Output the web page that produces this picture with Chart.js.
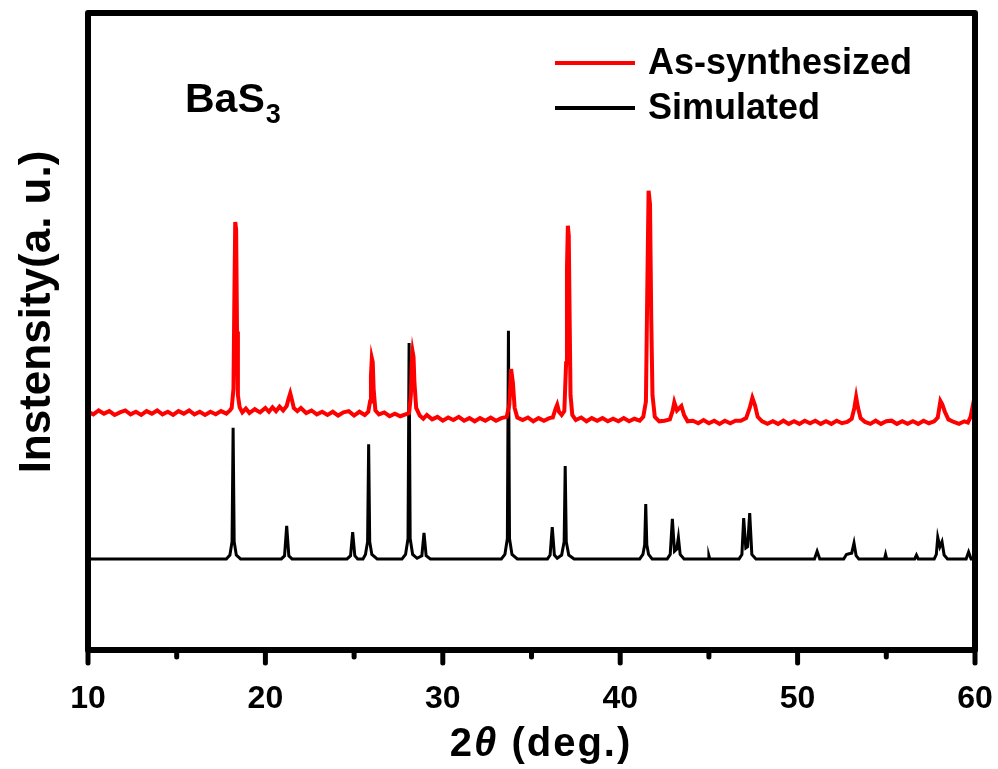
<!DOCTYPE html>
<html>
<head>
<meta charset="utf-8">
<script src="https://cdn.jsdelivr.net/npm/chart.js@4/dist/chart.umd.min.js"></script>
<style>
  html, body { margin: 0; padding: 0; background: #fff; }
  #wrap { width: 998px; height: 769px; }
</style>
</head>
<body>
<div id="wrap"><canvas id="xrd" width="998" height="769"></canvas></div>
<script>
// x axis (2theta) range and ticks
const thetaMin = 10;
const thetaMax = 60;
const majorTicks = [10, 20, 30, 40, 50, 60];
const minorTicks = [15, 25, 35, 45, 55];

const seriesLabels = ['As-synthesized', 'Simulated'];
const sampleName = 'BaS';
const sampleSub = '3';

const asSynthesized = [
  [10.0,37.4],[10.3,37.0],[10.6,37.6],[10.9,37.1],[11.2,37.5],[11.5,36.9],[11.8,37.3],[12.1,37.6],
  [12.4,37.0],[12.7,37.4],[13.0,36.9],[13.3,37.5],[13.6,37.1],[13.9,37.6],[14.2,37.0],[14.5,37.4],
  [14.8,36.9],[15.1,37.5],[15.4,37.1],[15.7,37.6],[16.0,37.0],[16.3,37.4],[16.6,36.9],[16.9,37.4],
  [17.2,37.0],[17.5,37.5],[17.8,37.1],[18.0,37.6],[18.1,38.0],[18.2,41.0],[18.25,55.0],[18.3,67.2],
  [18.35,66.0],[18.4,50.0],[18.45,40.0],[18.55,38.1],[18.7,37.3],[18.9,37.9],[19.1,37.2],[19.4,37.8],
  [19.7,37.3],[20.0,38.0],[20.2,37.4],[20.4,38.1],[20.6,37.5],[20.8,38.2],[21.0,37.6],[21.2,38.3],
  [21.3,39.4],[21.4,40.3],[21.5,39.2],[21.6,38.0],[21.8,37.5],[22.0,38.0],[22.3,37.2],[22.6,37.6],
  [22.9,37.0],[23.2,37.4],[23.5,36.9],[23.8,37.4],[24.1,36.8],[24.4,37.3],[24.7,37.5],[25.0,36.8],
  [25.3,37.4],[25.6,36.9],[25.8,37.4],[25.9,39.0],[25.95,43.0],[26.0,45.8],[26.05,45.2],[26.1,41.0],
  [26.2,37.6],[26.4,37.0],[26.7,37.3],[27.0,36.7],[27.3,37.1],[27.6,36.7],[27.9,37.0],[28.1,37.2],
  [28.2,40.0],[28.25,45.0],[28.3,46.8],[28.35,46.0],[28.4,42.0],[28.5,38.0],[28.7,36.8],[28.9,36.3],
  [29.1,36.9],[29.4,36.2],[29.7,36.6],[30.0,36.0],[30.3,36.5],[30.6,36.1],[30.9,36.6],[31.2,36.0],
  [31.5,36.4],[31.8,35.9],[32.1,36.4],[32.4,36.0],[32.7,36.5],[33.0,36.0],[33.3,36.4],[33.6,36.6],
  [33.75,38.5],[33.85,44.1],[33.95,42.0],[34.05,38.0],[34.2,36.5],[34.5,36.1],[34.8,36.5],[35.1,35.9],
  [35.4,36.4],[35.7,36.0],[36.0,36.4],[36.2,36.5],[36.35,37.8],[36.45,38.5],[36.55,37.4],[36.7,36.9],
  [36.85,37.5],[36.95,45.0],[37.0,60.0],[37.05,66.6],[37.1,65.0],[37.15,52.0],[37.2,40.0],[37.3,36.9],
  [37.5,36.1],[37.8,36.5],[38.1,35.9],[38.4,36.4],[38.7,36.0],[39.0,36.4],[39.3,35.9],[39.6,36.3],
  [39.9,35.9],[40.2,36.4],[40.5,35.9],[40.8,36.3],[41.1,36.0],[41.3,36.6],[41.45,39.0],[41.52,55.0],
  [41.6,72.1],[41.68,70.0],[41.75,52.0],[41.82,40.0],[41.95,36.6],[42.2,35.9],[42.5,36.0],[42.8,36.2],
  [42.95,37.5],[43.05,38.9],[43.2,37.6],[43.45,38.3],[43.6,36.9],[43.8,35.9],[44.1,36.0],[44.4,35.6],
  [44.7,36.1],[45.0,35.6],[45.3,36.0],[45.6,35.5],[45.9,36.0],[46.2,35.6],[46.5,36.0],[46.8,36.0],
  [47.1,36.4],[47.3,38.0],[47.45,39.6],[47.6,38.4],[47.75,36.6],[48.0,35.9],[48.3,35.5],[48.6,35.9],
  [48.9,35.5],[49.2,36.0],[49.5,35.5],[49.8,35.9],[50.1,35.5],[50.4,36.0],[50.7,35.6],[51.0,36.0],
  [51.3,35.5],[51.6,35.9],[51.9,35.5],[52.2,36.0],[52.5,35.6],[52.8,35.8],[53.05,36.3],[53.2,38.0],
  [53.3,39.7],[53.4,38.1],[53.55,36.4],[53.8,35.8],[54.1,35.5],[54.4,36.0],[54.7,35.5],[55.0,35.9],
  [55.3,36.0],[55.6,35.5],[55.9,35.9],[56.2,35.5],[56.5,35.9],[56.8,35.5],[57.1,36.0],[57.4,35.6],
  [57.7,35.9],[57.9,36.5],[58.05,39.1],[58.15,38.6],[58.3,37.4],[58.5,36.2],[58.8,35.8],[59.1,35.5],
  [59.4,35.9],[59.6,35.7],[59.75,36.6],[59.85,38.0],[59.95,36.2],[60.0,35.8]
];

// simulated pattern, [2theta, intensity]
const simulated = [
  [10.0,14.3],[17.8,14.3],[18.0,14.9],[18.12,17.0],[18.18,34.9],[18.24,17.0],[18.36,14.9],[18.6,14.3],
  [20.9,14.3],[21.08,14.8],[21.2,19.5],[21.32,14.8],[21.5,14.3],
  [24.6,14.3],[24.8,14.8],[24.92,18.5],[25.04,14.8],[25.2,14.3],
  [25.5,14.3],[25.64,15.0],[25.76,17.0],[25.82,32.3],[25.88,17.0],[26.0,15.0],[26.3,14.3],
  [27.7,14.3],[27.9,15.0],[28.04,17.5],[28.1,48.2],[28.16,17.5],[28.3,15.0],[28.55,14.4],
  [28.82,14.8],[28.94,18.4],[29.06,14.8],[29.3,14.3],
  [33.3,14.3],[33.5,15.0],[33.64,17.5],[33.7,50.1],[33.76,17.5],[33.9,15.0],[34.2,14.3],
  [35.9,14.3],[36.05,14.9],[36.17,19.3],[36.29,14.9],[36.45,14.4],[36.7,14.9],[36.84,17.0],
  [36.9,28.9],[36.96,17.0],[37.1,14.9],[37.4,14.3],
  [41.1,14.3],[41.28,15.0],[41.38,16.5],[41.44,22.9],[41.5,16.5],[41.6,15.0],[41.8,14.3],
  [42.65,14.3],[42.82,15.0],[42.94,20.6],[43.06,15.5],[43.18,15.8],[43.28,17.7],[43.38,15.0],[43.6,14.3],
  [44.95,14.3],[45.0,14.8],[45.05,14.3],
  [46.7,14.3],[46.86,15.0],[46.96,20.7],[47.08,16.0],[47.18,16.2],[47.3,21.5],[47.42,15.0],[47.65,14.3],
  [50.95,14.3],[51.1,15.5],[51.25,14.3],
  [52.6,14.3],[52.75,15.0],[52.9,15.1],[53.05,15.2],[53.18,16.8],[53.3,14.8],[53.45,14.3],
  [54.9,14.3],[54.96,15.0],[55.02,14.3],
  [56.6,14.3],[56.7,14.9],[56.8,14.3],
  [57.7,14.3],[57.82,15.0],[57.9,17.7],[58.02,16.2],[58.14,17.0],[58.26,14.9],[58.45,14.3],
  [59.5,14.3],[59.64,15.4],[59.78,14.3],[60.0,14.3]
];

const FONT = '"Liberation Sans", Arial, sans-serif';
const toPoints = arr => arr.map(p => ({ x: p[0], y: p[1] }));

// frame, ticks, legend and labels drawn on top of the library scales
const decorations = {
  id: 'decorations',
  afterDraw(chart) {
    const ctx = chart.ctx;
    const area = chart.chartArea;
    const xs = chart.scales.x;
    ctx.save();

    // ticks on bottom edge
    ctx.strokeStyle = '#000';
    ctx.lineCap = 'round';
    ctx.lineWidth = 5;
    majorTicks.forEach(v => {
      const px = xs.getPixelForValue(v);
      ctx.beginPath(); ctx.moveTo(px, area.bottom); ctx.lineTo(px, area.bottom + 13); ctx.stroke();
    });
    minorTicks.forEach(v => {
      const px = xs.getPixelForValue(v);
      ctx.beginPath(); ctx.moveTo(px, area.bottom); ctx.lineTo(px, area.bottom + 7); ctx.stroke();
    });

    // box
    ctx.lineCap = 'butt';
    ctx.lineJoin = 'round';
    ctx.lineWidth = 6;
    ctx.strokeRect(area.left, area.top, area.right - area.left, area.bottom - area.top);

    // legend
    const sets = chart.data.datasets;
    const legY = [63, 108];
    sets.forEach((ds, i) => {
      ctx.strokeStyle = ds.borderColor;
      ctx.lineWidth = 4;
      ctx.beginPath(); ctx.moveTo(555, legY[i]); ctx.lineTo(635, legY[i]); ctx.stroke();
      ctx.fillStyle = '#000';
      ctx.font = 'bold 36px ' + FONT;
      ctx.textBaseline = 'middle';
      ctx.textAlign = 'left';
      ctx.fillText(ds.label, 648, legY[i] + 1);
    });

    // sample name with subscript
    ctx.textBaseline = 'alphabetic';
    ctx.font = 'bold 41px ' + FONT;
    ctx.fillText(sampleName, 185, 112);
    const w = ctx.measureText(sampleName).width;
    ctx.font = 'bold 27px ' + FONT;
    ctx.fillText(sampleSub, 185 + w + 1, 123);

    // y title
    ctx.save();
    ctx.translate(50, 312);
    ctx.rotate(-Math.PI / 2);
    ctx.textAlign = 'center';
    ctx.font = 'bold 44px ' + FONT;
    ctx.fillText('Instensity(a. u.)', 0, 0);
    ctx.restore();

    // x title: 2θ (deg.)
    ctx.letterSpacing = '2px';
    const parts = [
      ['2', 'bold 40px ' + FONT],
      ['\u03b8', 'italic bold 40px ' + FONT],
      [' (deg.)', 'bold 40px ' + FONT]
    ];
    let total = 0;
    parts.forEach(p => { ctx.font = p[1]; total += ctx.measureText(p[0]).width; });
    let x = 541 - total / 2;
    parts.forEach(p => {
      ctx.font = p[1];
      ctx.fillText(p[0], x, 756);
      x += ctx.measureText(p[0]).width;
    });

    ctx.restore();
  }
};

new Chart(document.getElementById('xrd'), {
  type: 'line',
  data: {
    datasets: [
      {
        label: seriesLabels[0],
        data: toPoints(asSynthesized),
        borderColor: '#ff0000',
        borderWidth: 4,
        pointRadius: 0,
        tension: 0,
        fill: false
      },
      {
        label: seriesLabels[1],
        data: toPoints(simulated),
        borderColor: '#000000',
        borderWidth: 3,
        pointRadius: 0,
        tension: 0,
        fill: false
      }
    ]
  },
  options: {
    responsive: false,
    animation: false,
    devicePixelRatio: 1,
    layout: { padding: { top: 13, right: 23, left: 88, bottom: 0 } },
    plugins: {
      legend: { display: false },
      tooltip: { enabled: false }
    },
    scales: {
      x: {
        type: 'linear',
        min: thetaMin,
        max: thetaMax,
        grid: { display: false },
        border: { display: false },
        ticks: {
          stepSize: 10,
          padding: 22,
          color: '#000',
          font: { family: FONT, size: 32, weight: 'bold' }
        },
        afterFit: scale => {
          scale.height = 119;
          scale.paddingLeft = 0;
          scale.paddingRight = 0;
        }
      },
      y: {
        display: false,
        min: 0,
        max: 100
      }
    }
  },
  plugins: [decorations]
});
</script>
</body>
</html>
